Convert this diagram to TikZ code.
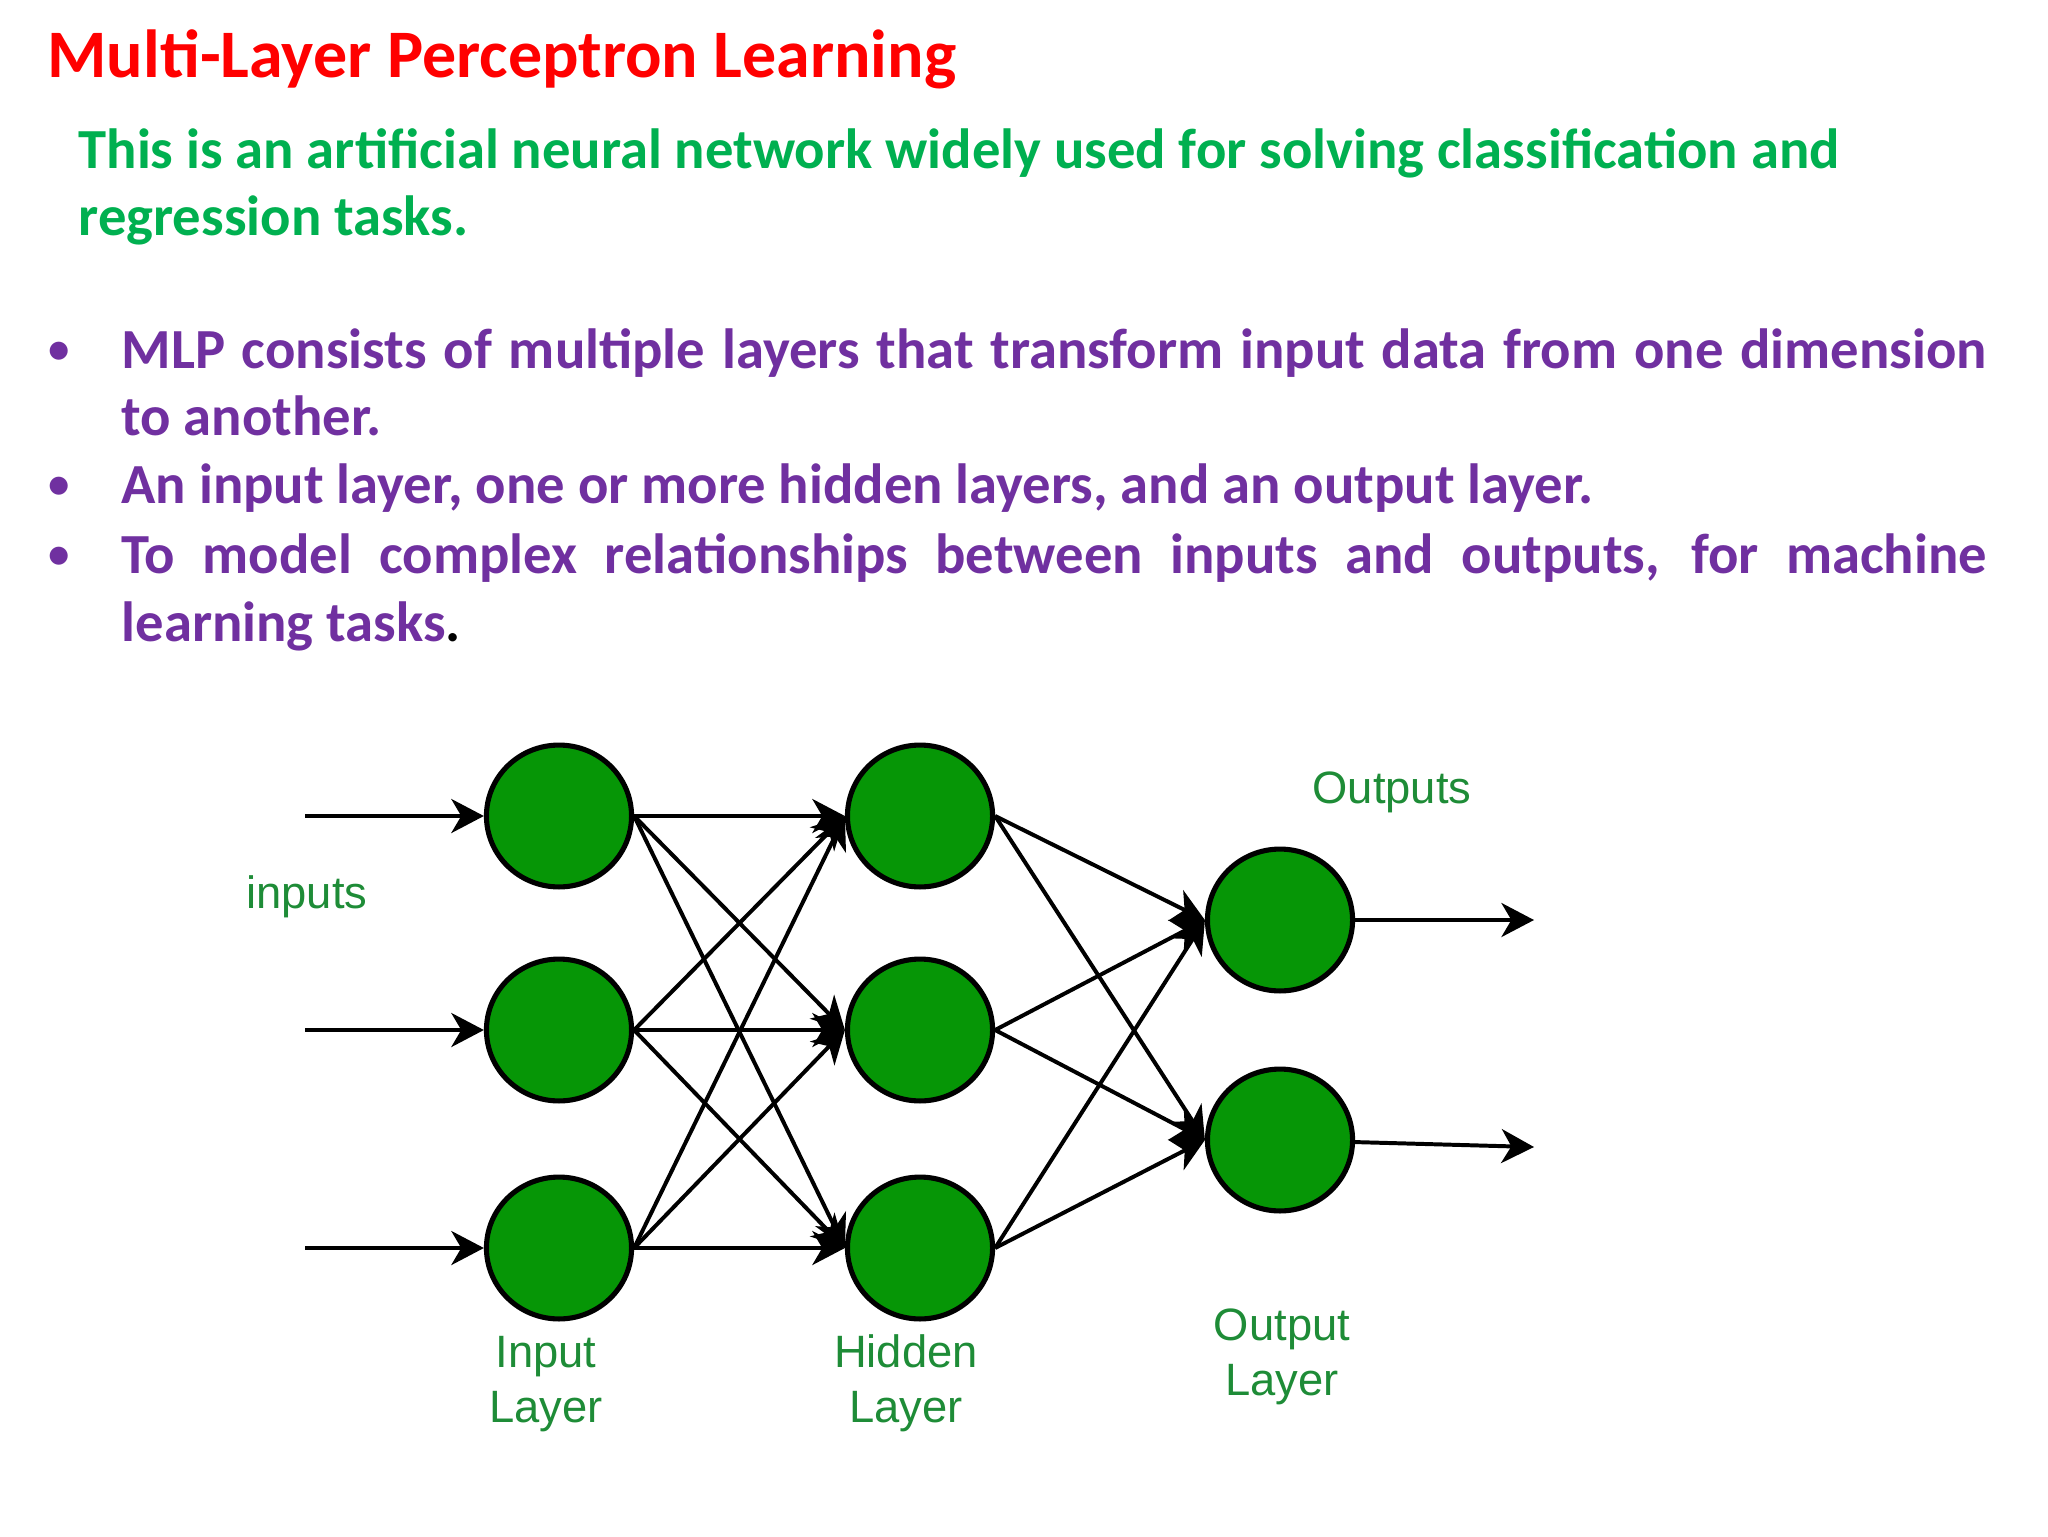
\documentclass[tikz,border=0pt]{standalone}
\usepackage{fontspec}
\setmainfont{Carlito}
\newfontfamily\labelfont{Liberation Sans}
\usepackage{xcolor}
\usepackage{tikz}
\usetikzlibrary{shapes.geometric,arrows.meta,positioning}
\definecolor{TitleRed}    {RGB}{255,  0,  0}
\definecolor{LeadGreen}   {RGB}{  0,176, 80}
\definecolor{ItemPurple}  {RGB}{112, 48,160}
\definecolor{NeuronGreen} {RGB}{  6,150,  6}
\definecolor{LabelGreen}  {RGB}{ 30,140, 55}
\tikzset{
  slidetext/.style={anchor=base west, inner sep=0pt,
                    font=\bfseries\fontsize{20}{24}\selectfont},
  titletext/.style={slidetext, text=TitleRed,
                    font=\bfseries\fontsize{24}{28.8}\selectfont},
  leadtext/.style ={slidetext, text=LeadGreen, text width=24cm, align=flush left},
  itemtext/.style ={slidetext, text=ItemPurple, text width=23.14cm, align=justify},
  itemmark/.style ={anchor=base west, inner sep=0pt, text=ItemPurple,
                    font=\mdseries\fontsize{18}{21.6}\selectfont},
  neuron/.style={
    ellipse, fill=NeuronGreen, draw=black, line width=1.8pt,
    minimum width=1.80cm, minimum height=1.76cm, inner sep=0pt
  },
  link/.style={-{Stealth[length=11.5pt,width=12pt,inset=3.5pt]},
               line width=1.4pt, color=black},
  tag/.style={anchor=base, inner sep=0pt, align=center, text=LabelGreen,
              font=\labelfont\fontsize{16}{19.4}\selectfont}
}

\begin{document}
\begin{tikzpicture}[x=0.0124023cm, y=-0.0124023cm]
  \path[fill=white, use as bounding box] (0,0) rectangle (2048,1536);

  % slide text
  \node[titletext] (title) at (47,78) {Multi-Layer Perceptron Learning};
  \node[leadtext]  (lead)  at (78,168) {This is an artificial neural network widely
    used for solving classification and\\regression tasks.};

  \foreach \y in {368,503,573}
    \node[itemmark] at (46,\y-3) {•};
  \node[itemtext] (item1) at (121,368) {MLP consists of multiple layers that
    transform input data from one dimension\linebreak to another.};
  \node[itemtext] (item2) at (121,503) {An input layer, one or more hidden
    layers, and an output layer.};
  \node[itemtext] (item3) at (121,573) {To model complex relationships between
    inputs and outputs, for machine\linebreak learning tasks{\color{black}.}};

  % network
  \foreach \n/\y in {1/816, 2/1030, 3/1248} {
    \node[neuron] (in\n)  at (559,\y) {};
    \node[neuron] (hid\n) at (920,\y) {};
    \coordinate   (src\n) at (305,\y);
  }
  \node[neuron] (out1) at (1280,920)  {};
  \node[neuron] (out2) at (1280,1140) {};
  \coordinate (sink1) at (1534,920);
  \coordinate (sink2) at (1534,1147);

  \foreach \n in {1,2,3}
    \draw[link] (src\n) -- (in\n);
  \foreach \a in {1,2,3}
    \foreach \b in {1,2,3}
      \draw[link] (in\a.east) -- (hid\b.west);
  \foreach \a in {1,2,3}
    \foreach \b in {1,2}
      \draw[link] (hid\a.east) -- (out\b.west);
  \foreach \n in {1,2}
    \draw[link] (out\n) -- (sink\n);

  \node[tag] (inputsLbl)  at (307,908)   {inputs};
  \node[tag] (outputsLbl) at (1392,803)  {Outputs};
  \node[tag] (inLayer)    at (546,1422)  {Input\\Layer};
  \node[tag] (hidLayer)   at (906,1422)  {Hidden\\Layer};
  \node[tag] (outLayer)   at (1282,1395) {Output\\Layer};
\end{tikzpicture}
\end{document}
